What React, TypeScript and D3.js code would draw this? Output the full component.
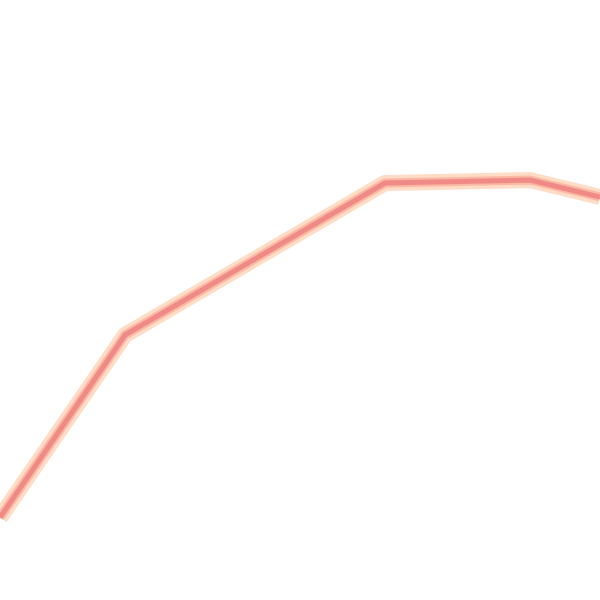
import React from "react";
import * as d3 from "d3";

const xValues = [0, 25, 77, 106, 120];
const yValues = [16.5, 53, 83.4, 84, 80.6];

export default function App() {
  const width = 600;
  const height = 600;
  const x = d3.scaleLinear().domain([0, 120]).range([0, width]);
  const y = d3.scaleLinear().domain([0, 120]).range([height, 0]);
  const pts: [number, number][] = xValues.map((v, i) => [v, yValues[i]]);
  const line = d3
    .line<[number, number]>()
    .x((d) => x(d[0]))
    .y((d) => y(d[1]));
  const path = line(pts) || "";
  return (
    <svg
      width={width}
      height={height}
      style={{ position: "absolute", left: 0, top: 0, background: "#fff" }}
    >
      <path d={path} fill="none" stroke="#ffdcc6" strokeWidth={16} strokeLinejoin="round" />
      <path d={path} fill="none" stroke="#fbb8a4" strokeWidth={9} strokeLinejoin="round" />
      <path d={path} fill="none" stroke="#f08a86" strokeWidth={5} strokeLinejoin="round" />
    </svg>
  );
}
